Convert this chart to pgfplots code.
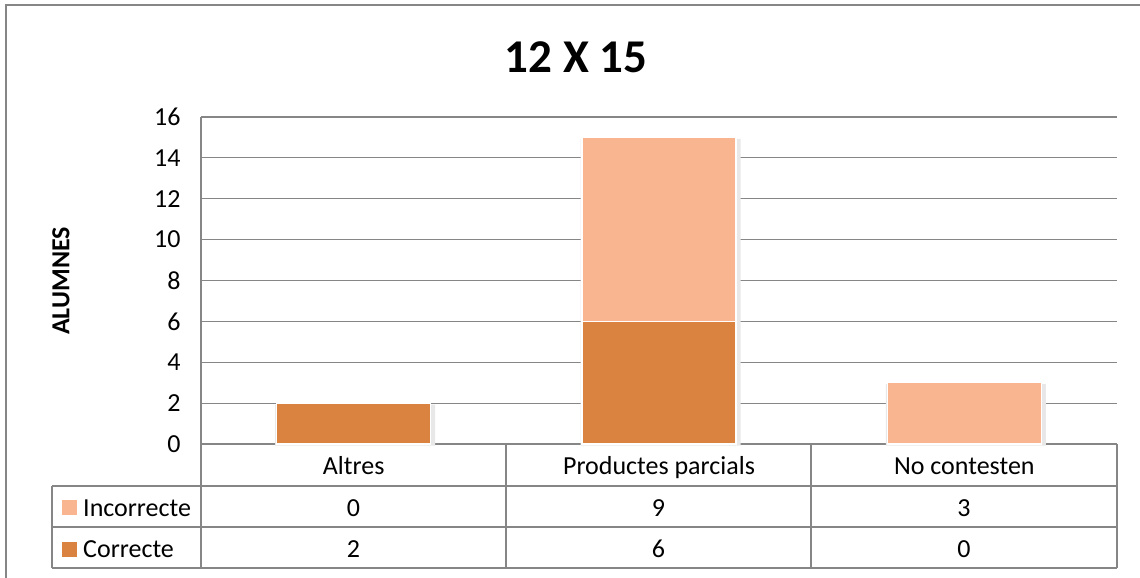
\documentclass[border=0pt]{standalone}
\usepackage{fontspec}
\setmainfont{Carlito}
\usepackage{pgfplots}
\usepackage{pgfplotstable}
\pgfplotsset{compat=1.18}

\definecolor{correcte}{RGB}{218,130,63}
\definecolor{incorrecte}{RGB}{248,181,143}
\definecolor{rulegray}{RGB}{134,134,134}

% Resultats per categoria: correctes i incorrectes
\pgfplotstableread{
x correcte incorrecte
0 2 0
1 6 9
2 0 3
}\resultats

\begin{document}
\begin{tikzpicture}[font=\fontsize{26}{30}\selectfont]
\path[use as bounding box] (0pt,0pt) rectangle (1140pt,-578pt);

\begin{axis}[
  at={(201pt,-444pt)}, anchor=south west,
  scale only axis, width=916pt, height=327pt,
  xmin=-0.5, xmax=2.5, ymin=0, ymax=16,
  ytick={0,2,...,16},
  xtick=data,
  xticklabels={Altres, Productes parcials, No contesten},
  xticklabel style={anchor=base, yshift=-30pt},
  yticklabel style={xshift=-17pt},
  /pgf/number format/assume math mode=true,
  major tick length=0pt,
  axis line style={draw=none},
  ymajorgrids,
  grid style={draw=rulegray, line width=1.1pt},
  bar width=154pt,
  clip=false,
]
% ombra suau sota cada columna (alçada total)
\addplot[forget plot, ybar, bar width=160pt, fill=black!9, draw=none,
  transform canvas={xshift=1.5pt, yshift=-1.5pt}]
  table[x=x, y expr=\thisrow{correcte}+\thisrow{incorrecte}] {\resultats};
\addplot[ybar stacked, fill=correcte, draw=white, line width=1.2pt] table[x=x, y=correcte] {\resultats};
\addplot[ybar stacked, fill=incorrecte, draw=white, line width=1.2pt] table[x=x, y=incorrecte] {\resultats};
\end{axis}

\begin{scope}[x=1pt, y=-1pt]
  % taula de dades sota el gràfic
  \draw[rulegray, line width=1.1pt] (201,117) -- (201,568);
  \draw[rulegray, line width=1.1pt] (52,486) -- (1117,486)
        (52,527) -- (1117,527) (52,568) -- (1117,568)
        (52,486) -- (52,568)
        (506,444) -- (506,568) (811,444) -- (811,568) (1117,444) -- (1117,568);
  % llegenda dins la taula
  \fill[incorrecte] (62,500) rectangle (77,515);
  \fill[correcte] (62,542) rectangle (77,557);
  \node[anchor=base west, inner sep=0pt] at (83,516) {Incorrecte};
  \node[anchor=base west, inner sep=0pt] at (83,557) {Correcte};
  % valors
  \foreach \r/\xc in {0/353.5, 1/658.5, 2/964} {
    \pgfplotstablegetelem{\r}{incorrecte}\of\resultats
    \node[anchor=base, inner sep=0pt] at (\xc,516) {\pgfplotsretval};
    \pgfplotstablegetelem{\r}{correcte}\of\resultats
    \node[anchor=base, inner sep=0pt] at (\xc,557) {\pgfplotsretval};
  }
  % títols
  \node[font=\fontsize{47}{52}\selectfont\bfseries] at (576,57) {12 X 15};
  \node[font=\fontsize{26}{30}\selectfont\bfseries, rotate=90] at (61,281) {ALUMNES};
  % marc exterior
  \draw[rulegray, line width=2pt] (6,578) -- (6,5) -- (1140,5);
\end{scope}
\end{tikzpicture}
\end{document}
